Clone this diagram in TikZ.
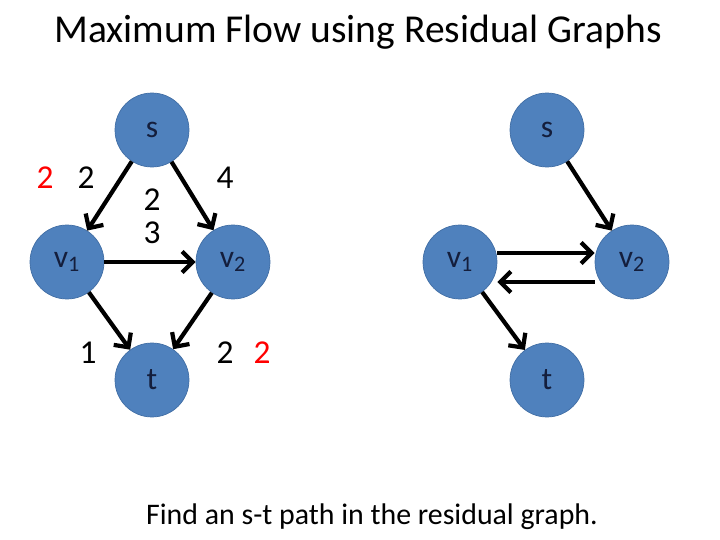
\documentclass[tikz,border=0pt]{standalone}
\usepackage{fontspec}
\setmainfont{Carlito}
\usetikzlibrary{positioning}
\usetikzlibrary{arrows.meta}
\begin{document}
\begin{tikzpicture}[x=0.02cm,y=-0.02cm,
  vert/.style={circle,fill={rgb,255:red,79;green,129;blue,189},draw={rgb,255:red,65;green,110;blue,165},minimum size=1.48cm,inner sep=0pt,text={rgb,255:red,20;green,30;blue,60},font=\fontsize{18}{20}\selectfont},
  edge/.style={line width=2.4pt,-{Straight Barb[length=6pt,width=12pt,line width=2.4pt]}},
  lab/.style={font=\fontsize{19}{22}\selectfont}]
\useasboundingbox (0,0) rectangle (720,540);

\node[font=\fontsize{22.5}{26}\selectfont] (title) at (358,32) {Maximum Flow using Residual Graphs};

% left graph
\node[vert] (s) at (152,130) {s};
\node[vert] (v1) at (67,262) {v\textsubscript{1}};
\node[vert] (v2) at (233,262) {v\textsubscript{2}};
\node[vert] (t) at (152,380) {t};

\draw[edge] (s) -- (v1);
\draw[edge] (s) -- (v2);
\draw[edge] (v1) -- (v2);
\draw[edge] (v1) -- (t);
\draw[edge] (v2) -- (t);

\node[lab,red] (f1) at (45,178) {2};
\node[lab] (c1) at (86,178) {2};
\node[lab] (f2) at (152,200) {2};
\node[lab] (c2) at (152,233) {3};
\node[lab] (c3) at (225,178) {4};
\node[lab] (c4) at (88,353) {1};
\node[lab] (c5) at (225,353) {2};
\node[lab,red] (f5) at (262,353) {2};

% residual graph
\node[vert] (rs) at (547,130) {s};
\node[vert] (rv1) at (460,262) {v\textsubscript{1}};
\node[vert] (rv2) at (632,262) {v\textsubscript{2}};
\node[vert] (rt) at (547,380) {t};

\draw[edge] (rs) -- (rv2);
\draw[edge] ([yshift=0.18cm]rv1.east) -- ([yshift=0.18cm]rv2.west);
\draw[edge] ([yshift=-0.4cm]rv2.west) -- ([yshift=-0.4cm]rv1.east);
\draw[edge] (rv1) -- (rt);

\node[font=\fontsize{17}{20}\selectfont] (note) at (372,517) {Find an s-t path in the residual graph.};
\end{tikzpicture}
\end{document}
